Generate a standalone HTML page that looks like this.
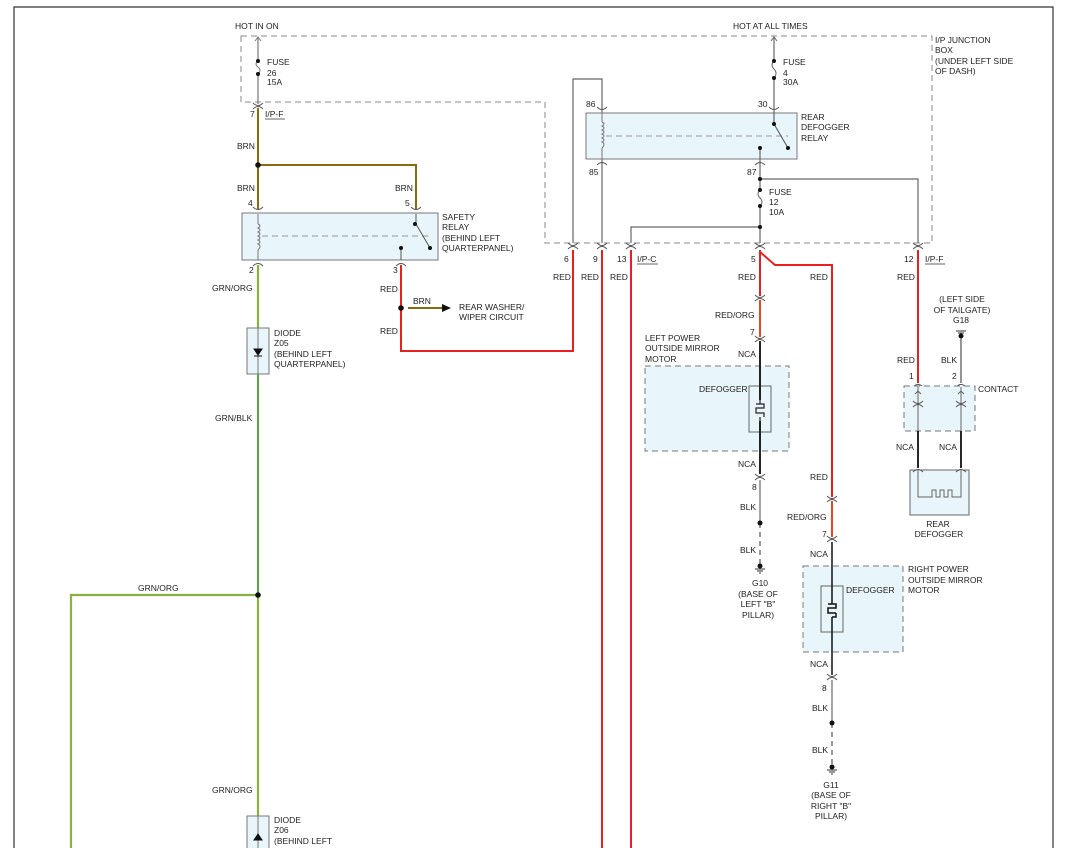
<!DOCTYPE html>
<html><head><meta charset="utf-8"><style>
html,body{margin:0;padding:0;background:#fff;}
svg{display:block;}
text{font-family:"Liberation Sans",Arial,sans-serif;font-size:8.5px;fill:#222;}
.c{text-anchor:middle;}
.r{text-anchor:end;}
</style></head><body>
<svg width="1067" height="848" viewBox="0 0 1067 848" xmlns="http://www.w3.org/2000/svg">
<defs>
<g id="conn"><path d="M-5,-3 Q0,2 5,-3 M-5,3 Q0,-2 5,3" fill="none" stroke="#555" stroke-width="0.9"/></g>
<g id="cup"><path d="M-5,3 Q0,-2 5,3" fill="none" stroke="#555" stroke-width="0.9"/></g>
<g id="cdn"><path d="M-5,-3 Q0,2 5,-3" fill="none" stroke="#555" stroke-width="0.9"/></g>
</defs>
<!-- frame -->
<path d="M14,848 V7 H1053 V848" fill="none" stroke="#333" stroke-width="1.2"/>
<!-- junction box dashed -->
<path d="M241,36 H932 V243 H545 V102 H241 Z" fill="none" stroke="#888" stroke-width="1" stroke-dasharray="6,4"/>
<text x="235" y="29">HOT IN ON</text>
<text x="733" y="29">HOT AT ALL TIMES</text>
<text x="935" y="43">I/P JUNCTION</text><text x="935" y="53">BOX</text><text x="935" y="64">(UNDER LEFT SIDE</text><text x="935" y="74">OF DASH)</text>

<!-- fuse 26 -->
<path d="M258,37 V61 M258,74 V104" stroke="#777" stroke-width="1.2"/>
<path d="M258,61 q-4,3 0,6 q4,3 0,7" fill="none" stroke="#777"/>
<circle cx="258" cy="61" r="2" fill="#111"/><circle cx="258" cy="74" r="2" fill="#111"/>
<path d="M255,41 L258,37 L261,41" fill="none" stroke="#777"/>
<text x="267" y="65">FUSE</text><text x="267" y="76">26</text><text x="267" y="85">15A</text>
<use href="#conn" x="258" y="106"/>
<text x="250" y="117">7</text><text x="265" y="117">I/P-F</text><path d="M265,119 H285" stroke="#333" stroke-width="0.8"/>
<!-- BRN -->
<path d="M258,108 V209 M258,165 H416 V209" fill="none" stroke="#8a6a10" stroke-width="2"/>
<circle cx="258" cy="165" r="2.8" fill="#111"/>
<text x="237" y="149">BRN</text><text x="237" y="191">BRN</text><text x="395" y="191">BRN</text>
<text x="248" y="206">4</text><text x="405" y="206">5</text>
<use href="#cdn" x="258" y="210"/><use href="#cdn" x="416" y="210"/>
<!-- safety relay -->
<rect x="242" y="213" width="196" height="47" fill="#e8f5fb" stroke="#777" stroke-width="1"/>
<path d="M258,214 V224 M258,250 V260" stroke="#777"/>
<path d="M258,224 q4,2 0,4 q4,2 0,4 q4,2 0,4 q4,2 0,4 q4,2 0,4 q4,2 0,6" fill="none" stroke="#777"/>
<path d="M262,236 H432" stroke="#999" stroke-dasharray="6,4"/>
<path d="M416,214 V224 L430,248" fill="none" stroke="#555"/>
<circle cx="415" cy="224" r="2" fill="#111"/><circle cx="430" cy="248" r="2" fill="#111"/>
<path d="M401,248 V260" stroke="#555"/><circle cx="401" cy="248" r="2" fill="#111"/>
<text x="442" y="220">SAFETY</text><text x="442" y="230">RELAY</text><text x="442" y="241">(BEHIND LEFT</text><text x="442" y="251">QUARTERPANEL)</text>
<use href="#cup" x="258" y="263"/><use href="#cup" x="401" y="263"/>
<text x="249" y="273">2</text><text x="393" y="273">3</text>
<!-- GRN/ORG -->
<path d="M258,265 V328" stroke="#6ab04c" stroke-width="2.2"/><path d="M258,265 V328" stroke="#e8b020" stroke-width="0.6"/>
<text x="212" y="291">GRN/ORG</text>
<rect x="247" y="328" width="22" height="46" fill="#e8f5fb" stroke="#777"/>
<path d="M258,328 V374" stroke="#777"/><path d="M254,349 H262 L258,355 Z M254,356 H262" fill="#111" stroke="#111"/>
<text x="274" y="336">DIODE</text><text x="274" y="346">Z05</text><text x="274" y="357">(BEHIND LEFT</text><text x="274" y="367">QUARTERPANEL)</text>
<path d="M258,374 V595" stroke="#5aa845" stroke-width="2"/>
<text x="215" y="421">GRN/BLK</text>
<path d="M258,595 V816 M258,595 H71 V848" fill="none" stroke="#6ab04c" stroke-width="2.2"/>
<path d="M258,595 V816 M258,595 H71 V848" fill="none" stroke="#e8b020" stroke-width="0.6"/>
<circle cx="258" cy="595" r="2.8" fill="#111"/>
<text x="138" y="591">GRN/ORG</text><text x="212" y="793">GRN/ORG</text>
<rect x="247" y="816" width="22" height="40" fill="#e8f5fb" stroke="#777"/>
<path d="M258,816 V848" stroke="#777"/><path d="M254,840 H262 M258,834 L254,840 H262 Z" fill="#111" stroke="#111"/>
<text x="274" y="823">DIODE</text><text x="274" y="833">Z06</text><text x="274" y="844">(BEHIND LEFT</text>
<!-- red from pin 3 -->
<path d="M401,265 V351 H573 V250" fill="none" stroke="#e82020" stroke-width="2"/>
<circle cx="401" cy="308" r="2.8" fill="#111"/>
<text x="380" y="292">RED</text><text x="380" y="334">RED</text>
<path d="M408,308 H442" stroke="#8a6a10" stroke-width="2"/><path d="M442,304 L451,308 L442,312 Z" fill="#111"/>
<text x="413" y="304">BRN</text><text x="459" y="310">REAR WASHER/</text><text x="459" y="320">WIPER CIRCUIT</text>

<!-- defogger relay -->
<path d="M573,243 V79 H602 V113 M602,159 V243 M760,227 H631 V243" fill="none" stroke="#666" stroke-width="1.2"/>
<rect x="586" y="113" width="211" height="46" fill="#e8f5fb" stroke="#777"/>
<path d="M602,113 V122 M602,148 V159" stroke="#777"/>
<path d="M602,122 q4,2 0,4 q4,2 0,4 q4,2 0,4 q4,2 0,4 q4,2 0,4 q4,2 0,6" fill="none" stroke="#777"/>
<path d="M606,136 H788" stroke="#999" stroke-dasharray="6,4"/>
<text x="586" y="107">86</text><text x="758" y="107">30</text>
<use href="#cdn" x="602" y="110"/><use href="#cdn" x="774" y="110"/>
<path d="M774,37 V61 M774,78 V124 L788,148" fill="none" stroke="#666" stroke-width="1.2"/>
<path d="M774,61 q-4,4 0,8 q4,4 0,9" fill="none" stroke="#666"/>
<path d="M771,41 L774,37 L777,41" fill="none" stroke="#666"/>
<circle cx="774" cy="61" r="2" fill="#111"/><circle cx="774" cy="78" r="2" fill="#111"/><circle cx="774" cy="124" r="2" fill="#111"/><circle cx="788" cy="148" r="2" fill="#111"/>
<text x="783" y="65">FUSE</text><text x="783" y="76">4</text><text x="783" y="85">30A</text>
<text x="801" y="120">REAR</text><text x="801" y="130">DEFOGGER</text><text x="801" y="141">RELAY</text>
<path d="M760,148 V190 M760,206 V243 M760,179 H918 V243" fill="none" stroke="#666" stroke-width="1.2"/>
<path d="M760,190 q-4,4 0,8 q4,4 0,8" fill="none" stroke="#666"/>
<circle cx="760" cy="148" r="2" fill="#111"/><circle cx="760" cy="179" r="2" fill="#111"/><circle cx="760" cy="190" r="2" fill="#111"/><circle cx="760" cy="206" r="2" fill="#111"/><circle cx="760" cy="227" r="2" fill="#111"/>
<use href="#cup" x="602" y="162"/><use href="#cup" x="760" y="162"/>
<text x="589" y="175">85</text><text x="747" y="175">87</text>
<text x="769" y="195">FUSE</text><text x="769" y="205">12</text><text x="769" y="215">10A</text>
<g><use href="#conn" x="573" y="246"/><use href="#conn" x="602" y="246"/><use href="#conn" x="631" y="246"/><use href="#conn" x="760" y="246"/><use href="#conn" x="918" y="246"/></g>
<text x="564" y="262">6</text><text x="593" y="262">9</text><text x="617" y="262">13</text><text x="637" y="262">I/P-C</text><path d="M637,264 H658" stroke="#333" stroke-width="0.8"/>
<text x="751" y="262">5</text><text x="904" y="262">12</text><text x="925" y="262">I/P-F</text><path d="M925,264 H945" stroke="#333" stroke-width="0.8"/>
<!-- red wires -->
<path d="M602,250 V848 M631,250 V848 M760,250 V296 M760,252 L775,265 H832 V497 M918,250 V383" fill="none" stroke="#e82020" stroke-width="2"/>
<text x="553" y="280">RED</text><text x="581" y="280">RED</text><text x="610" y="280">RED</text><text x="738" y="280">RED</text><text x="810" y="280">RED</text><text x="897" y="280">RED</text>
<!-- left mirror -->
<use href="#conn" x="760" y="298"/>
<path d="M760,300 V337" stroke="#e82020" stroke-width="2"/><path d="M760,300 V337" stroke="#f0a020" stroke-width="0.6"/>
<text x="715" y="318">RED/ORG</text><text x="750" y="335">7</text>
<use href="#conn" x="760" y="339"/>
<text x="645" y="341">LEFT POWER</text><text x="645" y="351">OUTSIDE MIRROR</text><text x="645" y="362">MOTOR</text>
<text x="738" y="357">NCA</text>
<rect x="645" y="366" width="144" height="85" fill="#e8f5fb" stroke="#777" stroke-dasharray="6,4"/>
<rect x="749" y="386" width="22" height="46" fill="#e8f5fb" stroke="#666"/>
<path d="M760,341 V404 M756,404 H764 V408 H756 V413 H764 V417 M760,417 V474" fill="none" stroke="#222" stroke-width="1.2"/>
<path d="M760,341 V400 M760,421 V474" stroke="#111" stroke-width="1.8"/>
<text x="699" y="392">DEFOGGER</text>
<text x="738" y="467">NCA</text>
<use href="#conn" x="760" y="477"/>
<text x="752" y="490">8</text><text x="740" y="510">BLK</text><text x="740" y="553">BLK</text>
<path d="M760,480 V523" stroke="#666" stroke-width="1.2"/><path d="M760,523 V565" stroke="#555" stroke-width="1.2" stroke-dasharray="5,4"/>
<circle cx="760" cy="523" r="2.5" fill="#111"/><circle cx="760" cy="566" r="2.5" fill="#111"/>
<path d="M755,569 H765 M757,571 H763 M759,573 H761" stroke="#333"/>
<text class="c" x="760" y="586">G10</text><text class="c" x="758" y="597">(BASE OF</text><text class="c" x="758" y="607">LEFT "B"</text><text class="c" x="758" y="618">PILLAR)</text>
<!-- right mirror -->
<use href="#conn" x="832" y="499"/>
<text x="810" y="480">RED</text><text x="787" y="520">RED/ORG</text><text x="822" y="537">7</text>
<path d="M832,501 V537" stroke="#e82020" stroke-width="2"/><path d="M832,501 V537" stroke="#f0a020" stroke-width="0.6"/>
<use href="#conn" x="832" y="539"/>
<text x="810" y="557">NCA</text>
<rect x="803" y="566" width="100" height="86" fill="#e8f5fb" stroke="#777" stroke-dasharray="6,4"/>
<rect x="821" y="586" width="22" height="46" fill="#e8f5fb" stroke="#666"/>
<path d="M832,542 V600 M828,604 H836 V608 H828 V613 H836 M832,617 V675 M832,600 V604 M836,613 V617 H832" fill="none" stroke="#111" stroke-width="1.5"/>
<text x="846" y="593">DEFOGGER</text>
<text x="908" y="572">RIGHT POWER</text><text x="908" y="583">OUTSIDE MIRROR</text><text x="908" y="593">MOTOR</text>
<text x="810" y="667">NCA</text><use href="#conn" x="832" y="677"/>
<text x="822" y="691">8</text><text x="812" y="711">BLK</text><text x="812" y="753">BLK</text>
<path d="M832,680 V723" stroke="#666" stroke-width="1.2"/><path d="M832,723 V766" stroke="#555" stroke-width="1.2" stroke-dasharray="5,4"/>
<circle cx="832" cy="723" r="2.5" fill="#111"/><circle cx="832" cy="767" r="2.5" fill="#111"/>
<path d="M827,770 H837 M829,772 H835 M831,774 H833" stroke="#333"/>
<text class="c" x="831" y="788">G11</text><text class="c" x="831" y="798">(BASE OF</text><text class="c" x="831" y="809">RIGHT "B"</text><text class="c" x="831" y="819">PILLAR)</text>
<!-- contact / rear defogger -->
<text class="c" x="962" y="302">(LEFT SIDE</text><text class="c" x="962" y="313">OF TAILGATE)</text><text class="c" x="961" y="323">G18</text>
<path d="M956,331 H966 M958,333 H964" stroke="#333"/><circle cx="961" cy="336" r="2.5" fill="#111"/>
<path d="M961,338 V383" stroke="#666" stroke-width="1.4"/>
<text x="897" y="363">RED</text><text x="941" y="363">BLK</text><text x="909" y="379">1</text><text x="952" y="379">2</text>
<use href="#cup" x="918" y="384"/><use href="#cup" x="961" y="384"/>
<rect x="904" y="386" width="71" height="45" fill="#e8f5fb" stroke="#777" stroke-dasharray="6,4"/>
<path d="M918,387 V431 M961,387 V431" stroke="#666"/>
<use href="#conn" x="918" y="404"/><use href="#conn" x="961" y="404"/>
<path d="M918,391 l-3,3 M918,391 l3,3 M961,391 l-3,3 M961,391 l3,3" stroke="#666"/>
<text x="978" y="392">CONTACT</text>
<path d="M918,431 V468 M961,431 V468" stroke="#111" stroke-width="1.8"/>
<text x="896" y="450">NCA</text><text x="939" y="450">NCA</text>
<rect x="910" y="470" width="59" height="45" fill="#e8f5fb" stroke="#666"/>
<use href="#cup" x="918" y="469"/><use href="#cup" x="961" y="469"/>
<path d="M918,471 V497 H932 V490 H936 V497 H940 V490 H944 V497 H948 V490 H952 V497 H961 V471" fill="none" stroke="#666"/>
<text class="c" x="938" y="527">REAR</text><text class="c" x="939" y="537">DEFOGGER</text>
</svg>
</body></html>
